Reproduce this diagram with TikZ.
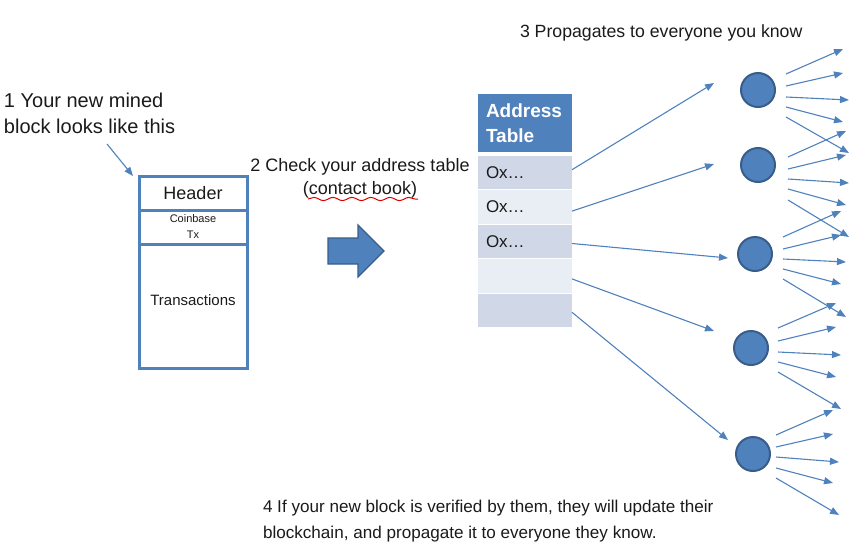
\documentclass[tikz,border=0pt]{standalone}
\usepackage{fontspec}
\setmainfont{Liberation Sans}
\usetikzlibrary{arrows.meta,calc,decorations.pathmorphing}
\definecolor{blu}{HTML}{4F81BD}
\definecolor{bluedge}{HTML}{385D8A}
\definecolor{rowdark}{HTML}{D0D8E8}
\definecolor{rowlight}{HTML}{E9EDF4}
\definecolor{txt}{HTML}{1A1A1A}
\begin{document}
\begin{tikzpicture}[x=1pt,y=-1pt,
  every node/.style={text=txt, inner sep=0pt, outer sep=0pt},
  conn/.style={draw=blu, line width=1.1pt, -{Triangle[length=9pt,width=7pt]}},
  blockcell/.style={draw=blu, line width=3pt, minimum width=108pt, anchor=north west},
  tablehead/.style={fill=blu, minimum width=94pt, minimum height=58pt, anchor=north west},
  rowd/.style={fill=rowdark, minimum width=94pt, minimum height=33.4pt, anchor=north west},
  rowl/.style={fill=rowlight, minimum width=94pt, minimum height=33.4pt, anchor=north west},
  peer/.style={circle, fill=blu, draw=bluedge, line width=2pt, minimum size=34pt}
]
\useasboundingbox (0,0) rectangle (849,552);

% step 1 text
\node[anchor=base west, align=left, font=\fontsize{20}{26}\selectfont] (t1) at (4,133) {1 Your new mined\\block looks like this};
\coordinate (t1end) at (107,144);

% block
\node[blockcell, minimum height=34pt] (hdr) at (139,176) {};
\node[blockcell, minimum height=34pt] (cb) at (139,210) {};
\node[blockcell, minimum height=124pt] (tx) at (139,244) {};
\node[font=\fontsize{18}{20}\selectfont] at (hdr.center) {Header};
\node[font=\fontsize{11}{16}\selectfont, align=center] at (cb.center) {Coinbase\\Tx};
\node[font=\fontsize{15}{18}\selectfont] at ($(tx.center)+(0,-6)$) {Transactions};
\draw[conn] (t1end) -- ($(hdr.north west)+(-6,0)$);

% step 2 text
\node[anchor=base, align=center, font=\fontsize{18}{22.5}\selectfont] (t2) at (360,194) {2 Check your address table\\(contact book)};
\draw[red!85!black, line width=1pt, decorate, decoration={snake, amplitude=1.6pt, segment length=19pt}] (308,199) -- (418,199);

% big arrow
\draw[fill=blu, draw=bluedge, line width=1.2pt, line join=miter]
  (328,238) -- (358,238) -- (358,225) -- (384,251) -- (358,277) -- (358,264) -- (328,264) -- cycle;

% address table
\node[tablehead] (th) at (478,94) {};
\node[anchor=west, align=left, text=white, font=\bfseries\fontsize{19}{25}\selectfont] at ($(th.west)+(8,0)$) {Address\\Table};
\node[rowd] (r1) at (478,156.0) {};
\node[rowl] (r2) at (478,190.4) {};
\node[rowd] (r3) at (478,224.8) {};
\node[rowl] (r4) at (478,259.2) {};
\node[rowd] (r5) at (478,293.6) {};
\foreach \r in {r1,r2,r3} \node[anchor=west, font=\fontsize{17}{20}\selectfont] at ($(\r.west)+(8,0)$) {Ox…};

% peers
\node[peer] (n1) at (758,90) {};
\node[peer] (n2) at (758,165) {};
\node[peer] (n3) at (755,254) {};
\node[peer] (n4) at (751,348) {};
\node[peer] (n5) at (753,454) {};

\coordinate (e1) at (714,83);
\coordinate (e2) at (714,164);
\coordinate (e3) at (728,258);
\coordinate (e4) at (714,331);
\coordinate (e5) at (728,440);
\draw[conn] ($(r1.east)+(0,-3)$) -- (e1);
\draw[conn] ($(r2.east)+(0,4)$) -- (e2);
\draw[conn] ($(r3.east)+(0,2)$) -- (e3);
\draw[conn] ($(r4.east)+(0,3)$) -- (e4);
\draw[conn] ($(r5.east)+(0,2)$) -- (e5);

% fan-out arrows
\draw[conn] ($(n1)+(28,-16)$) -- ++(57,-25);
\draw[conn] ($(n1)+(28,-4)$) -- ++(57,-13);
\draw[conn] ($(n1)+(28,7)$) -- ++(63,3);
\draw[conn] ($(n1)+(28,17)$) -- ++(57,15);
\draw[conn] ($(n1)+(28,27)$) -- ++(63,36);

\draw[conn] ($(n2)+(30,-8)$) -- ++(58,-26);
\draw[conn] ($(n2)+(30,4)$) -- ++(58,-14);
\draw[conn] ($(n2)+(30,14)$) -- ++(61,4);
\draw[conn] ($(n2)+(30,24)$) -- ++(58,16);
\draw[conn] ($(n2)+(30,35)$) -- ++(61,37);

\draw[conn] ($(n3)+(28,-17)$) -- ++(58,-26);
\draw[conn] ($(n3)+(28,-5)$) -- ++(58,-14);
\draw[conn] ($(n3)+(28,5)$) -- ++(63,3);
\draw[conn] ($(n3)+(28,15)$) -- ++(58,15);
\draw[conn] ($(n3)+(28,25)$) -- ++(63,38);

\draw[conn] ($(n4)+(27,-20)$) -- ++(58,-25);
\draw[conn] ($(n4)+(27,-7)$) -- ++(58,-14);
\draw[conn] ($(n4)+(27,4)$) -- ++(63,3);
\draw[conn] ($(n4)+(27,14)$) -- ++(58,15);
\draw[conn] ($(n4)+(27,24)$) -- ++(63,37);

\draw[conn] ($(n5)+(23,-19)$) -- ++(57,-25);
\draw[conn] ($(n5)+(23,-7)$) -- ++(57,-13);
\draw[conn] ($(n5)+(23,3)$) -- ++(63,5);
\draw[conn] ($(n5)+(23,14)$) -- ++(57,15);
\draw[conn] ($(n5)+(23,24)$) -- ++(63,37);

% step 3 and 4 texts
\node[anchor=base west, font=\fontsize{17.7}{22}\selectfont] (t3) at (520,37) {3 Propagates to everyone you know};
\node[anchor=base west, align=left, font=\fontsize{17.1}{26}\selectfont] (t4) at (263,538) {4 If your new block is verified by them, they will update their\\blockchain, and propagate it to everyone they know.};
\end{tikzpicture}
\end{document}
